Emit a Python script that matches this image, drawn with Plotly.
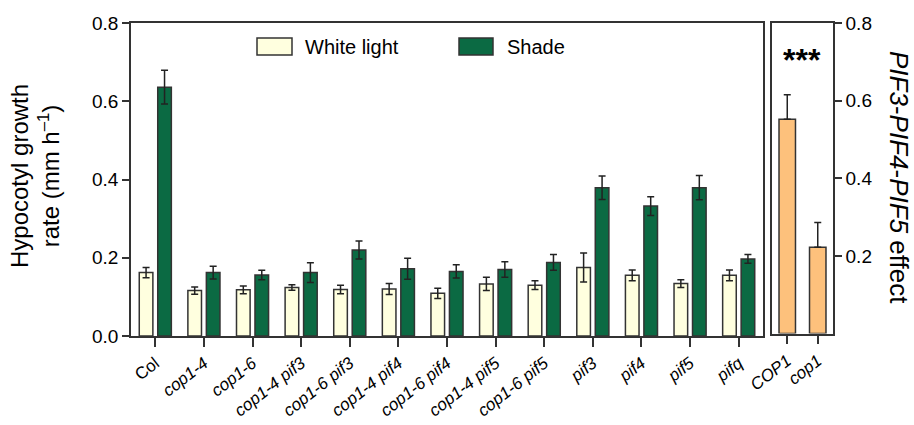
import plotly.graph_objects as go

# ---------------- data ----------------
genotypes = ["Col", "cop1-4", "cop1-6", "cop1-4 pif3", "cop1-6 pif3", "cop1-4 pif4",
             "cop1-6 pif4", "cop1-4 pif5", "cop1-6 pif5", "pif3", "pif4", "pif5", "pifq"]
white_light = [0.162, 0.116, 0.118, 0.124, 0.119, 0.120, 0.109, 0.133, 0.130, 0.175, 0.155, 0.134, 0.155]
white_err = [0.013, 0.009, 0.010, 0.007, 0.011, 0.014, 0.013, 0.017, 0.011, 0.037, 0.014, 0.010, 0.014]
shade = [0.636, 0.162, 0.156, 0.162, 0.220, 0.172, 0.165, 0.170, 0.188, 0.379, 0.332, 0.379, 0.197]
shade_err = [0.043, 0.016, 0.012, 0.025, 0.023, 0.027, 0.017, 0.020, 0.020, 0.030, 0.024, 0.031, 0.011]

effect_groups = ["COP1", "cop1"]
effect = [0.552, 0.222]
effect_err = [0.063, 0.064]

y_ticks = [0.0, 0.2, 0.4, 0.6, 0.8]
y2_ticks = [0.2, 0.4, 0.6, 0.8]

# ---------------- styling ----------------
W, H = 914, 425
FONT = "Liberation Sans, Arial, sans-serif"
LINE = "#333333"
C_WHITE = "#FFFFDF"
C_SHADE = "#0B6A43"
C_EFFECT = "#FDC17C"

def px(x):
    return x / W

def py(y):
    return 1 - y / H

def label(g):
    return g if g == "Col" else f"<i>{g}</i>"

idx = list(range(len(genotypes)))
idx2 = list(range(len(effect_groups)))

err_style = dict(type="data", color="#222222", thickness=1.5, width=3.5, visible=True)

fig = go.Figure()
fig.add_trace(go.Bar(
    x=idx, y=white_light, name="White light", width=0.28, offset=-0.33,
    marker=dict(color=C_WHITE, line=dict(color=LINE, width=1.5)),
    error_y=dict(array=white_err, **err_style), showlegend=False,
    xaxis="x", yaxis="y"))
fig.add_trace(go.Bar(
    x=idx, y=shade, name="Shade", width=0.28, offset=0.05,
    marker=dict(color=C_SHADE, line=dict(color=LINE, width=1.5)),
    error_y=dict(array=shade_err, **err_style), showlegend=False,
    xaxis="x", yaxis="y"))
fig.add_trace(go.Bar(
    x=idx2, y=effect, name="PIF effect", width=0.54,
    marker=dict(color=C_EFFECT, line=dict(color=LINE, width=1.5)),
    error_y=dict(array=effect_err, arrayminus=[0] * len(effect_err), symmetric=False, **err_style),
    showlegend=False, xaxis="x2", yaxis="y2"))

axis_common = dict(showline=True, linecolor=LINE, linewidth=1.5, mirror=True,
                   showgrid=False, zeroline=False, ticks="outside", tickcolor=LINE,
                   tickwidth=1.5, automargin=False)

fig.update_layout(
    width=W, height=H,
    margin=dict(l=0, r=0, t=0, b=0),
    paper_bgcolor="white", plot_bgcolor="white",
    font=dict(family=FONT, color="black"),
    barmode="overlay",
    xaxis=dict(domain=[px(131), px(763)], range=[-0.5, len(genotypes) - 0.5],
               tickvals=idx, ticktext=[label(g) for g in genotypes],
               tickangle=-38, ticklen=9, tickfont=dict(size=17), anchor="y", **axis_common),
    yaxis=dict(domain=[py(336), py(23)], range=[0, 0.8], tickvals=y_ticks,
               tickformat=".1f", ticklen=7, tickfont=dict(size=19), anchor="x", **axis_common),
    xaxis2=dict(domain=[px(772), px(833)], range=[-0.5, len(effect_groups) - 0.5],
                tickvals=idx2, ticktext=[label(g) for g in effect_groups],
                tickangle=-38, ticklen=9, tickfont=dict(size=17), anchor="y2", **axis_common),
    yaxis2=dict(domain=[py(333.5), py(23)], range=[0, 0.8], tickvals=y2_ticks,
                tickformat=".1f", ticklen=7, tickfont=dict(size=19), side="right",
                anchor="x2", **axis_common),
)

# legend drawn as swatches + labels
legend_items = [("White light", C_WHITE, 257, 292, 303), ("Shade", C_SHADE, 459, 493, 505)]
for name, col, x0, x1, xt in legend_items:
    fig.add_shape(type="rect", xref="paper", yref="paper",
                  x0=px(x0), x1=px(x1), y0=py(55), y1=py(38),
                  fillcolor=col, line=dict(color=LINE, width=1.5))
    fig.add_annotation(text=name, xref="paper", yref="paper", x=px(xt), y=py(47),
                       xanchor="left", yanchor="middle", showarrow=False,
                       font=dict(size=20, family=FONT, color="black"))

# axis titles
fig.add_annotation(text="Hypocotyl growth<br>rate (mm h<sup>–1</sup>)", xref="paper", yref="paper",
                   x=px(35), y=py(176), textangle=-90, showarrow=False,
                   xanchor="center", yanchor="middle",
                   font=dict(size=24, family=FONT, color="black"))
fig.add_annotation(text="<i>PIF3</i>-<i>PIF4</i>-<i>PIF5</i> effect", xref="paper", yref="paper",
                   x=px(899), y=py(177), textangle=90, showarrow=False,
                   xanchor="center", yanchor="middle",
                   font=dict(size=26, family=FONT, color="black"))

# significance
fig.add_annotation(text="<b>***</b>", xref="paper", yref="paper", x=px(802), y=py(60),
                   xanchor="center", yanchor="middle", showarrow=False,
                   font=dict(size=32, family=FONT, color="black"))

fig.write_html("out.html", config={"displayModeBar": False},
               post_script="document.body.style.margin='0';document.body.style.overflow='hidden';")
